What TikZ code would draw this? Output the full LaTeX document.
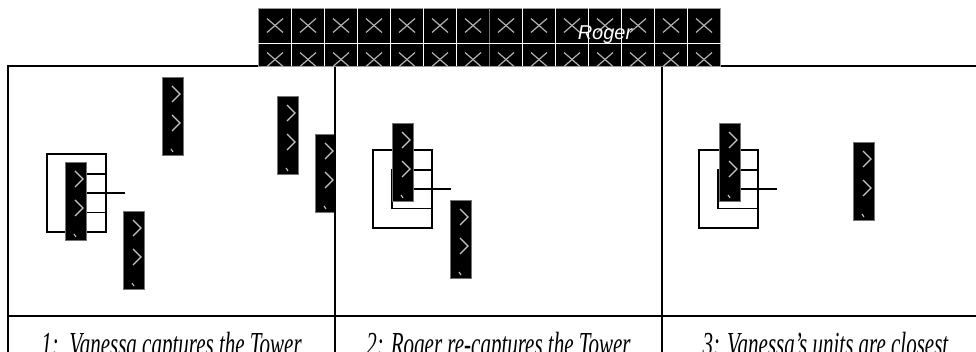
\documentclass[tikz,border=0pt]{standalone}
\usepackage{fontspec}
\setmainfont{Liberation Serif}
\newfontfamily\bannerfont{Liberation Sans}
\tikzset{
  unit/.style={draw=black!55, fill=black, line width=0.6pt, minimum width=21pt, minimum height=78pt, inner sep=0pt, anchor=north west},
  chev/.style={draw=black!22, line width=1.1pt},
  towerline/.style={draw=black, line width=1.4pt},
  frameline/.style={draw=black, line width=1.6pt},
  cross/.style={draw=black!30, line width=1.2pt},
  caption/.style={font=\fontsize{21}{21}\selectfont\itshape, anchor=base, inner sep=0pt}
}
\newcommand{\armyunit}[3]{%
  \node[unit] (#1) at (#2,#3) {};
  \foreach \cy in {17,46}{
    \draw[chev] ([shift={(10,\cy-8)}]#1.north west) -- ([shift={(18,\cy)}]#1.north west) -- ([shift={(10,\cy+8)}]#1.north west);
  }
  \draw[chev] ([shift={(9,72)}]#1.north west) -- ([shift={(11,75)}]#1.north west);
}
\newcommand{\tower}[2]{%
  \draw[towerline] (#1,#2) rectangle ++(59,78);
  \draw[towerline] (#1+19,#2+20) rectangle (#1+59,#2+58.5);
  \draw[towerline] (#1+19,#2+39) -- (#1+78,#2+39);
}
\begin{document}
\begin{tikzpicture}[x=1pt, y=-1pt]
\useasboundingbox (0,0) rectangle (976,352);
\clip (0,0) rectangle (976,352);

\begin{scope}
\clip (8,66) rectangle (335,316);
\tower{47}{154}
\armyunit{pa}{162}{77}
\armyunit{pb}{277}{96}
\armyunit{pc}{315}{134}
\armyunit{pd}{65}{162}
\armyunit{pe}{123}{211}
\end{scope}

\tower{373}{150}
\armyunit{qa}{392}{123}
\armyunit{qb}{450}{200}

\tower{699}{150}
\armyunit{ra}{719}{123}
\armyunit{rb}{853}{142}

\draw[frameline] (8,66) rectangle (989,380);
\draw[frameline] (8,316) -- (989,316);
\draw[frameline] (335,66) -- (335,380);
\draw[frameline] (662,66) -- (662,380);

\node[caption] (capa) at (171.5,355) {\scalebox{1}[1.6]{1:\ \ Vanessa captures the Tower}};
\node[caption] (capb) at (498.5,355) {\scalebox{1}[1.6]{2: Roger re-captures the Tower}};
\node[caption] (capc) at (825.5,355) {\scalebox{1}[1.6]{3: Vanessa’s units are closest}};

\node[fill=black, draw=black!40, line width=0.8pt, minimum width=462pt, minimum height=58pt, inner sep=0pt, anchor=north west] (bar) at (258,8) {};
\foreach \k in {0,...,13}{
  \foreach \r in {25.5,59.5}{
    \draw[cross] (267+33*\k,\r-7) -- (283+33*\k,\r+7);
    \draw[cross] (267+33*\k,\r+7) -- (283+33*\k,\r-7);
  }
}
\foreach \k in {1,...,13}{
  \draw[white, line width=0.8pt] (258+33*\k,8) -- (258+33*\k,66);
}
\draw[black!55, line width=0.8pt] (489,8) -- (489,66);
\draw[white, line width=0.8pt] (bar.west |- 0,43) -- (bar.east |- 0,43);
\node[text=white, font=\bannerfont\itshape\fontsize{20}{20}\selectfont, anchor=base, inner sep=0pt] (roger) at (605,40) {Roger};
\end{tikzpicture}
\end{document}
